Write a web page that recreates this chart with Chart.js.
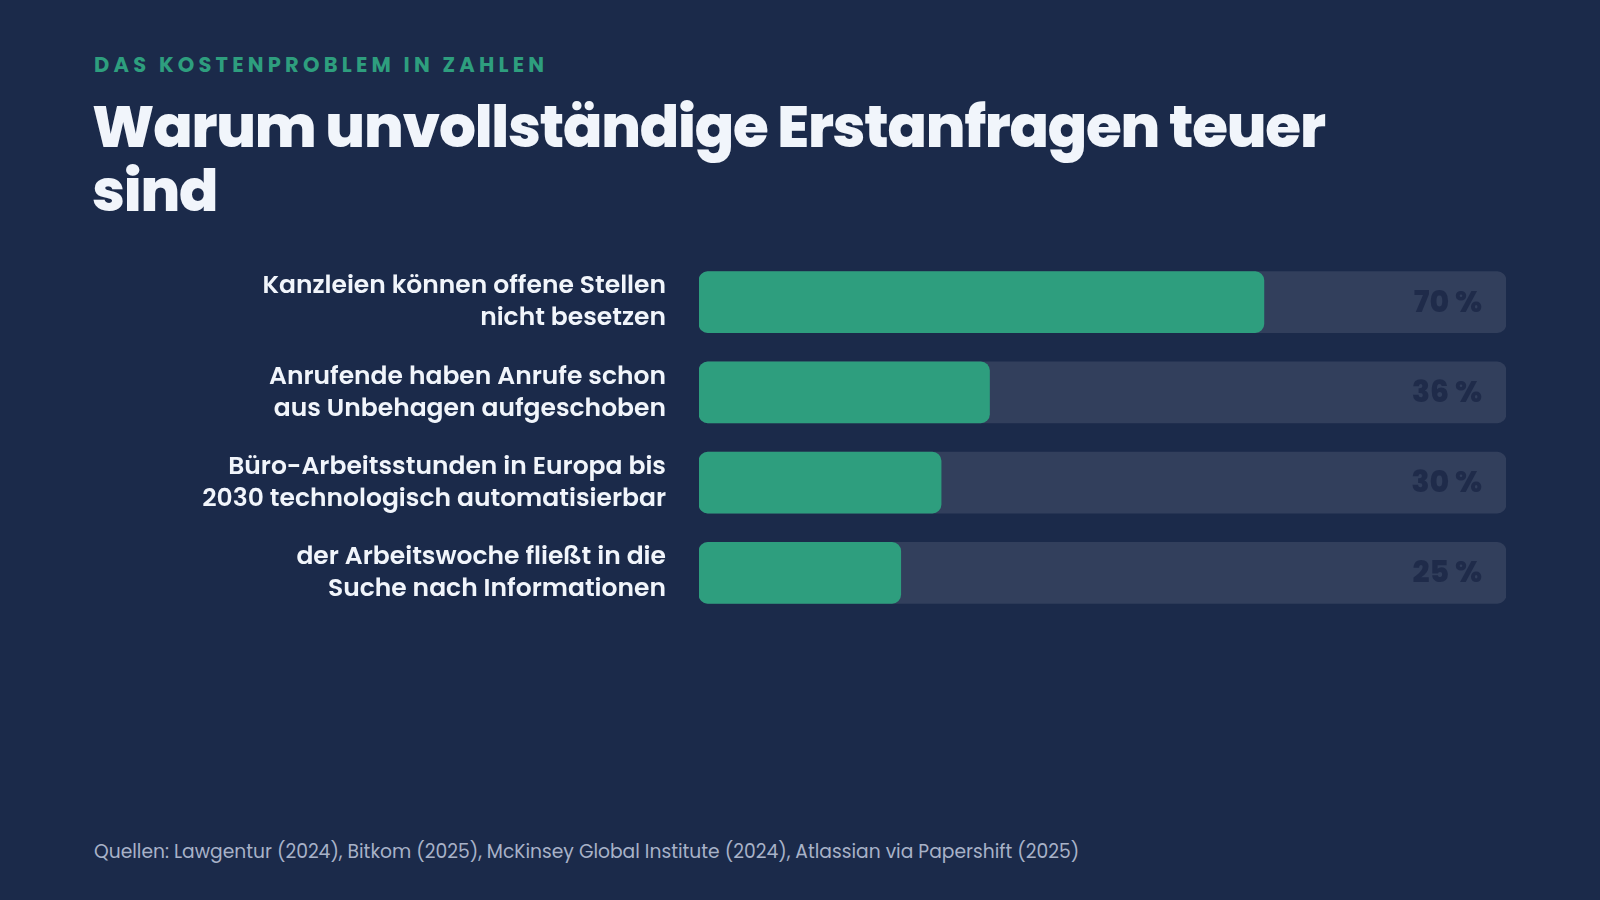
<!DOCTYPE html>
<html><head><meta charset="utf-8">
<script src="https://cdn.jsdelivr.net/npm/chart.js@4"></script>
<style>
body{margin:0;width:1600px;height:900px;background:#1b2a4a;font-family:Poppins,Inter,sans-serif;position:relative;overflow:hidden}
.kicker{position:absolute;left:94px;top:49px;color:#2e9e7e;font-weight:700;font-size:21px;letter-spacing:4.2px}
h1{position:absolute;left:92px;top:95px;margin:0;color:#f1f5fb;font-weight:800;font-size:58px;line-height:64px;letter-spacing:-1.2px;width:1300px}
.src{position:absolute;left:94px;top:837px;color:#a8b2c8;font-size:18.7px}
#c{position:absolute;left:0;top:257px}
</style></head><body>
<div class="kicker">DAS KOSTENPROBLEM IN ZAHLEN</div>
<h1>Warum unvollständige Erstanfragen teuer sind</h1>
<canvas id="c" width="1506" height="361"></canvas>
<div class="src">Quellen: Lawgentur (2024), Bitkom (2025), McKinsey Global Institute (2024), Atlassian via Papershift (2025)</div>
<script>
const categories = [
  ['Kanzleien können offene Stellen','nicht besetzen'],
  ['Anrufende haben Anrufe schon','aus Unbehagen aufgeschoben'],
  ['Büro-Arbeitsstunden in Europa bis','2030 technologisch automatisierbar'],
  ['der Arbeitswoche fließt in die','Suche nach Informationen']
];
const values = [70, 36, 30, 25];
const trackMax = [100, 100, 100, 100];

// category labels and percentage text, placed via the y scale
const textPlugin = {
  id: 'textPlugin',
  afterDatasetsDraw(chart) {
    const ctx = chart.ctx, y = chart.scales.y, meta = chart.getDatasetMeta(1);
    ctx.save();
    ctx.textBaseline = 'middle';
    ctx.textAlign = 'right';
    ctx.font = '600 25px Poppins, sans-serif';
    ctx.fillStyle = '#f1f5fb';
    categories.forEach((lines, i) => {
      const cy = y.getPixelForValue(i);
      ctx.fillText(lines[0], chart.chartArea.left - 33, cy - 15);
      ctx.fillText(lines[1], chart.chartArea.left - 33, cy + 17);
    });
    ctx.font = '800 30px Poppins, sans-serif';
    ctx.fillStyle = '#1f2b4a';
    meta.data.forEach((b, i) => {
      ctx.fillText(values[i] + ' %', b.x - 24, b.y + 2);
    });
    ctx.restore();
  }
};

new Chart(document.getElementById('c'), {
  type: 'bar',
  data: {
    labels: categories.map(l => l.join(' ')),
    datasets: [
      { data: values, backgroundColor: '#2e9e7e', borderRadius: 9, borderSkipped: false, barThickness: 61, grouped: false, order: 1 },
      { data: trackMax, backgroundColor: '#323f5c', borderRadius: 9, borderSkipped: false, barThickness: 61, grouped: false, order: 2 }
    ]
  },
  options: {
    indexAxis: 'y',
    responsive: false,
    animation: false,
    layout: { padding: 0 },
    plugins: { legend: { display: false }, tooltip: { enabled: false } },
    scales: {
      x: { min: 0, max: 100, display: false },
      y: {
        grid: { display: false }, border: { display: false },
        ticks: { display: false },
        afterFit: s => { s.width = 699; }
      }
    }
  },
  plugins: [textPlugin]
});
</script>
</body></html>
